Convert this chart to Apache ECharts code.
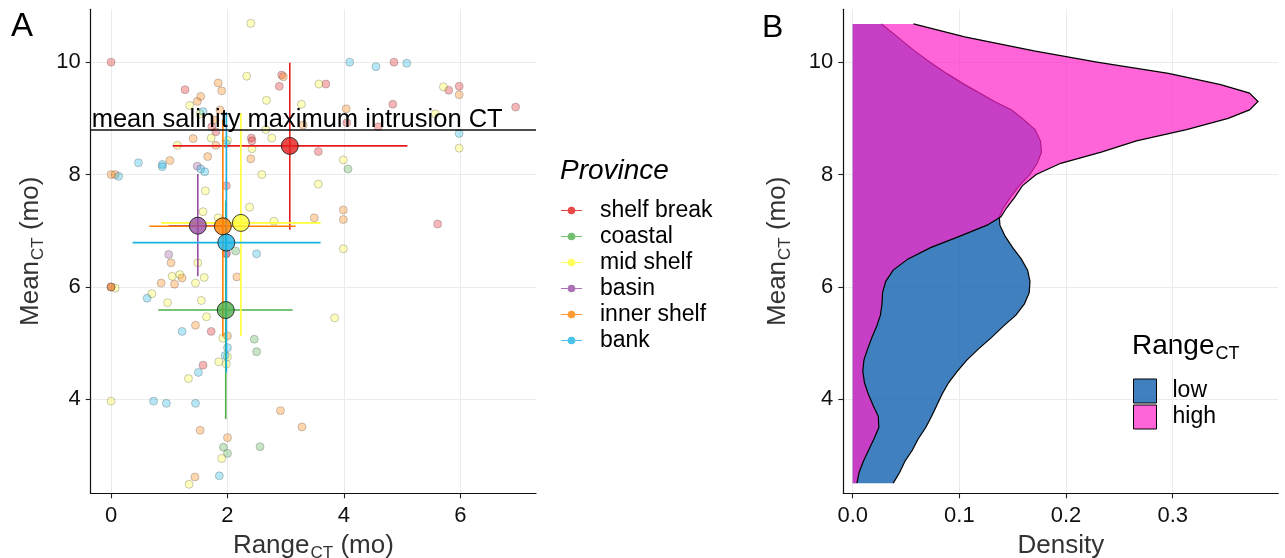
<!DOCTYPE html>
<html><head><meta charset="utf-8">
<script src="https://cdn.jsdelivr.net/npm/echarts@6/dist/echarts.min.js"></script>
<style>html,body{margin:0;padding:0;background:#fff}#c{width:1285px;height:558px}</style>
</head><body><div id="c"></div>
<script>
const FONT = '"Liberation Sans", Arial, Helvetica, sans-serif';

// ---------- Panel A data ----------
const provinces = ['shelf break', 'coastal', 'mid shelf', 'basin', 'inner shelf', 'bank'];
const provinceColors = ['#E41A1C', '#4DAF4A', '#FFFF33', '#984EA3', '#FF7F00', '#1AB3E6'];

const shelfBreakPts = [[0,10.0],[4.86,10.0],[1.27,9.51],[2.93,9.77],[2.89,9.57],[3.69,9.61],[4.84,9.25],[5.80,9.50],[5.98,9.57],[6.95,9.20],[1.73,8.85],[1.80,8.76],[4.05,8.92],[4.59,8.85],[2.41,8.65],[2.42,8.60],[3.56,8.41],[1.98,7.80],[5.61,7.12],[1.98,6.59],[1.72,5.21],[1.58,4.61]];
const coastalPts = [[4.07,8.10],[2.14,6.64],[2.46,5.07],[2.50,4.85],[1.93,3.15],[2.0,3.04],[2.56,3.16]];
const midShelfPts = [[2.40,10.69],[2.33,9.75],[3.57,9.61],[1.35,9.23],[1.53,9.08],[2.67,9.32],[3.27,9.25],[5.71,9.56],[5.57,9.08],[5.98,8.47],[1.72,8.65],[2.0,8.61],[2.66,8.80],[2.76,8.65],[1.14,8.52],[2.42,8.46],[3.99,8.26],[2.59,8.0],[1.62,7.71],[3.56,7.83],[1.58,7.34],[2.38,7.42],[2.80,7.17],[1.84,7.23],[3.99,6.68],[1.49,6.43],[1.05,6.19],[1.18,6.22],[1.60,6.17],[1.45,6.07],[0.07,5.98],[0.70,5.88],[0.97,5.72],[1.55,5.76],[1.64,5.47],[3.84,5.45],[1.92,5.09],[2.0,4.76],[1.85,4.67],[1.98,4.63],[1.33,4.37],[0,3.97],[1.90,2.95],[1.34,2.49]];
const basinPts = [[1.48,8.15],[0.99,6.58],[1.98,6.60],[0,6.0]];
const innerShelfPts = [[2.96,9.74],[1.84,9.63],[1.90,9.49],[1.54,9.39],[1.48,9.30],[1.87,9.15],[4.04,9.17],[5.98,9.42],[1.77,8.97],[3.30,8.88],[1.41,8.64],[1.80,8.52],[1.01,8.25],[1.66,8.32],[2.40,8.28],[0,8.0],[0.07,8.0],[3.49,7.23],[3.99,7.37],[3.99,7.20],[1.03,6.43],[1.22,6.16],[0.86,6.07],[1.09,6.05],[2.16,6.18],[0,6.0],[0,6.0],[1.45,5.32],[2.0,5.13],[2.91,3.80],[3.28,3.51],[1.53,3.45],[2.0,3.32],[1.44,2.62]];
const bankPts = [[4.10,10.0],[4.55,9.92],[5.08,9.98],[1.58,9.12],[5.98,8.73],[1.98,8.55],[0.47,8.21],[0.88,8.18],[0.88,8.14],[0.13,7.97],[1.54,8.10],[1.61,8.05],[2.50,6.59],[0.62,5.80],[1.22,5.21],[2.0,4.92],[1.96,4.78],[1.50,4.48],[0.73,3.97],[0.95,3.93],[1.45,3.93],[1.86,2.64]];
const provincePts = [shelfBreakPts, coastalPts, midShelfPts, basinPts, innerShelfPts, bankPts];

// province means and error-bar extents
const meanX = [3.07, 1.97, 2.23, 1.49, 1.92, 1.98];
const meanY = [8.51, 5.59, 7.14, 7.09, 7.08, 6.79];
const xLo = [1.06, 0.81, 0.86, 0.99, 0.66, 0.37];
const xHi = [5.09, 3.12, 3.60, 2.00, 3.17, 3.60];
const yLo = [7.02, 3.65, 5.13, 6.19, 5.12, 4.48];
const yHi = [9.99, 7.54, 9.09, 8.01, 8.98, 9.11];

const salinityIntrusionCT = 8.8;
const xTicksA = [0, 2, 4, 6];
const yTicks = [4, 6, 8, 10];

// ---------- Panel B data ----------
const rangeGroups = ['low', 'high'];
const densY = [2.51, 2.7, 2.9, 3.1, 3.3, 3.5, 3.7, 3.9, 4.1, 4.3, 4.5, 4.7, 4.9, 5.1, 5.3, 5.5, 5.7, 5.9, 6.1, 6.3, 6.5, 6.7, 6.9, 7.1, 7.25, 7.4, 7.6, 7.8, 8.0, 8.2, 8.4, 8.6, 8.8, 9.0, 9.15, 9.3, 9.45, 9.6, 9.8, 10.0, 10.2, 10.45, 10.68];
const densLow = [0.038, 0.044, 0.049, 0.056, 0.0615, 0.0685, 0.074, 0.079, 0.084, 0.090, 0.098, 0.107, 0.118, 0.130, 0.141, 0.153, 0.161, 0.1655, 0.1662, 0.164, 0.158, 0.150, 0.143, 0.138, 0.1375, 0.141, 0.148, 0.156, 0.166, 0.173, 0.177, 0.176, 0.171, 0.159, 0.149, 0.133, 0.119, 0.105, 0.088, 0.0725, 0.058, 0.042, 0.027];
const densHigh = [0.004, 0.006, 0.010, 0.015, 0.020, 0.0245, 0.024, 0.019, 0.0145, 0.011, 0.0095, 0.0105, 0.014, 0.018, 0.0225, 0.026, 0.0275, 0.028, 0.031, 0.038, 0.052, 0.073, 0.100, 0.126, 0.139, 0.144, 0.152, 0.159, 0.172, 0.195, 0.233, 0.266, 0.313, 0.352, 0.372, 0.380, 0.372, 0.345, 0.296, 0.229, 0.170, 0.105, 0.057];
const xTicksB = [0, 0.1, 0.2, 0.3];

// ---------- styling helpers ----------
function rgba(hex, a) {
  const n = parseInt(hex.slice(1), 16);
  return 'rgba(' + ((n >> 16) & 255) + ',' + ((n >> 8) & 255) + ',' + (n & 255) + ',' + a + ')';
}
const lowFill = 'rgba(30,106,179,0.85)';
const highFill = 'rgba(255,36,200,0.7)';

const richTitle = {
  m: { fontSize: 26, fontFamily: FONT, color: '#333', lineHeight: 26, verticalAlign: 'top' },
  s: { fontSize: 17, fontFamily: FONT, color: '#333', lineHeight: 17, verticalAlign: 'top', padding: [12, 0, 0, 1] }
};

function axisCommon(ticks, fmt, margin) {
  return {
    axisLine: { show: true, onZero: false, lineStyle: { color: '#111', width: 1.2 } },
    axisTick: { show: true, length: 5, customValues: ticks, lineStyle: { color: '#222', width: 1.1 } },
    axisLabel: { customValues: ticks, fontSize: 22, fontFamily: FONT, color: '#111', formatter: fmt, margin: margin },
    splitLine: { show: true, lineStyle: { color: '#EBEBEB', width: 1 } },
    nameLocation: 'middle'
  };
}

const series = [];
// small province points
provinces.forEach((p, i) => {
  series.push({
    type: 'scatter', name: p, xAxisIndex: 0, yAxisIndex: 0, z: 2,
    data: provincePts[i], symbolSize: 8,
    itemStyle: { color: rgba(provinceColors[i], 0.4), borderColor: 'rgba(70,70,70,0.45)', borderWidth: 0.8 },
    emphasis: { disabled: true }, silent: true
  });
});
// reference line
series.push({
  type: 'line', name: 'ref', xAxisIndex: 0, yAxisIndex: 0, data: [], z: 3,
  markLine: {
    silent: true, symbol: 'none', animation: false,
    lineStyle: { color: '#111', width: 1.6, type: 'solid' },
    label: { show: true, position: 'insideStartTop', formatter: 'mean salinity maximum intrusion CT',
      fontSize: 25.5, fontFamily: FONT, color: '#000', distance: [1, -3] },
    data: [{ yAxis: salinityIntrusionCT }]
  }
});
// error bars
provinces.forEach((p, i) => {
  series.push({
    type: 'custom', name: p, xAxisIndex: 0, yAxisIndex: 0, z: 4, silent: true,
    data: [[meanX[i], meanY[i], xLo[i], xHi[i], yLo[i], yHi[i]]],
    encode: { x: [0, 2, 3], y: [1, 4, 5] },
    renderItem: function (params, api) {
      const mx = api.value(0), my = api.value(1);
      const a = api.coord([api.value(2), my]), b = api.coord([api.value(3), my]);
      const c = api.coord([mx, api.value(4)]), d = api.coord([mx, api.value(5)]);
      const st = { stroke: provinceColors[i], lineWidth: 1.6 };
      return { type: 'group', children: [
        { type: 'line', shape: { x1: a[0], y1: a[1], x2: b[0], y2: b[1] }, style: st },
        { type: 'line', shape: { x1: c[0], y1: c[1], x2: d[0], y2: d[1] }, style: st }
      ] };
    }
  });
});
// mean points
provinces.forEach((p, i) => {
  series.push({
    type: 'scatter', name: p, xAxisIndex: 0, yAxisIndex: 0, z: 5,
    data: [[meanX[i], meanY[i]]], symbolSize: 17,
    itemStyle: { color: provinceColors[i], borderColor: '#111', borderWidth: 1 },
    emphasis: { disabled: true }, silent: true
  });
});
// density areas
function densityRender(dens, fill) {
  return function (params, api) {
    const pts = densY.map((y, k) => api.coord([dens[k], y]));
    const base = [api.coord([0, densY[densY.length - 1]]), api.coord([0, densY[0]])];
    return { type: 'group', children: [
      { type: 'polygon', shape: { points: pts.concat(base) }, style: { fill: fill } },
      { type: 'polyline', shape: { points: pts }, style: { stroke: '#000', lineWidth: 1.2, fill: null } }
    ] };
  };
}
series.push({
  type: 'custom', name: 'low', xAxisIndex: 1, yAxisIndex: 1, z: 2, silent: true,
  itemStyle: { color: lowFill },
  data: [[densLow[0], densY[0]]], renderItem: densityRender(densLow, lowFill)
});
series.push({
  type: 'custom', name: 'high', xAxisIndex: 1, yAxisIndex: 1, z: 3, silent: true,
  itemStyle: { color: highFill },
  data: [[densHigh[0], densY[0]]], renderItem: densityRender(densHigh, highFill)
});

const legendIcon = 'path://M0,3.4L22,3.4L22,4.6L0,4.6Z M7,4A4,4,0,1,1,15,4A4,4,0,1,1,7,4Z';

const option = {
  backgroundColor: '#fff',
  animation: false,
  textStyle: { fontFamily: FONT },
  grid: [
    { left: 90.7, top: 9.3, width: 445.3, height: 484, outerBoundsMode: 'none', containLabel: false },
    { left: 843.3, top: 9.3, width: 435, height: 484, outerBoundsMode: 'none', containLabel: false }
  ],
  xAxis: [
    Object.assign(axisCommon(xTicksA, v => String(v), 12), {
      type: 'value', gridIndex: 0, min: -0.35, max: 7.3,
      name: '{m|Range}{s|CT}{m| (mo)}', nameGap: 40, nameTextStyle: { rich: richTitle }
    }),
    Object.assign(axisCommon(xTicksB, v => v.toFixed(1), 12), {
      type: 'value', gridIndex: 1, min: -0.0088, max: 0.399,
      name: '{m|Density}', nameGap: 40, nameTextStyle: { rich: richTitle }
    })
  ],
  yAxis: [
    Object.assign(axisCommon(yTicks, v => String(v), 10), {
      type: 'value', gridIndex: 0, min: 2.33, max: 10.94,
      name: '{m|Mean}{s|CT}{m| (mo)}', nameGap: 47, nameTextStyle: { rich: richTitle }
    }),
    Object.assign(axisCommon(yTicks, v => String(v), 10), {
      type: 'value', gridIndex: 1, min: 2.33, max: 10.94,
      name: '{m|Mean}{s|CT}{m| (mo)}', nameGap: 52, nameTextStyle: { rich: richTitle }
    })
  ],
  legend: [
    {
      orient: 'vertical', left: 556, top: 193.5, itemWidth: 21, itemHeight: 8, itemGap: 2,
      selectedMode: false,
      textStyle: { fontSize: 23, fontFamily: FONT, color: '#000', lineHeight: 24, padding: [0, 0, 0, 13] },
      data: provinces.map((p, i) => ({ name: p, icon: legendIcon, itemStyle: { color: provinceColors[i], borderWidth: 0 } }))
    },
    {
      orient: 'vertical', left: 1128, top: 373.5, itemWidth: 23, itemHeight: 24, itemGap: 1,
      selectedMode: false,
      itemStyle: { borderColor: '#000', borderWidth: 1 },
      textStyle: { fontSize: 23, fontFamily: FONT, color: '#000', lineHeight: 24, padding: [0, 0, 0, 11] },
      data: [
        { name: rangeGroups[0], icon: 'rect', itemStyle: { color: lowFill, borderColor: '#000', borderWidth: 1 } },
        { name: rangeGroups[1], icon: 'rect', itemStyle: { color: highFill, borderColor: '#000', borderWidth: 1 } }
      ]
    }
  ],
  graphic: [
    { type: 'text', x: 11, y: 27, style: { text: 'A', fontSize: 33, fontFamily: FONT, fill: '#000', verticalAlign: 'middle' } },
    { type: 'text', x: 762, y: 28, style: { text: 'B', fontSize: 32, fontFamily: FONT, fill: '#000', verticalAlign: 'middle' } },
    { type: 'text', x: 560, y: 171, style: { text: 'Province', fontSize: 28, fontStyle: 'italic', fontFamily: FONT, fill: '#000', verticalAlign: 'middle' } },
    { type: 'text', x: 1132, y: 332, style: { text: '{m|Range}{s|CT}', fontFamily: FONT,
        rich: { m: { fontSize: 28, fontFamily: FONT, color: '#000', lineHeight: 28, verticalAlign: 'top' },
                s: { fontSize: 18, fontFamily: FONT, color: '#000', lineHeight: 18, verticalAlign: 'top', padding: [13, 0, 0, 1] } } } }
  ],
  series: series
};

const chart = echarts.init(document.getElementById('c'), null, { renderer: 'canvas' });
chart.setOption(option);
</script></body></html>
